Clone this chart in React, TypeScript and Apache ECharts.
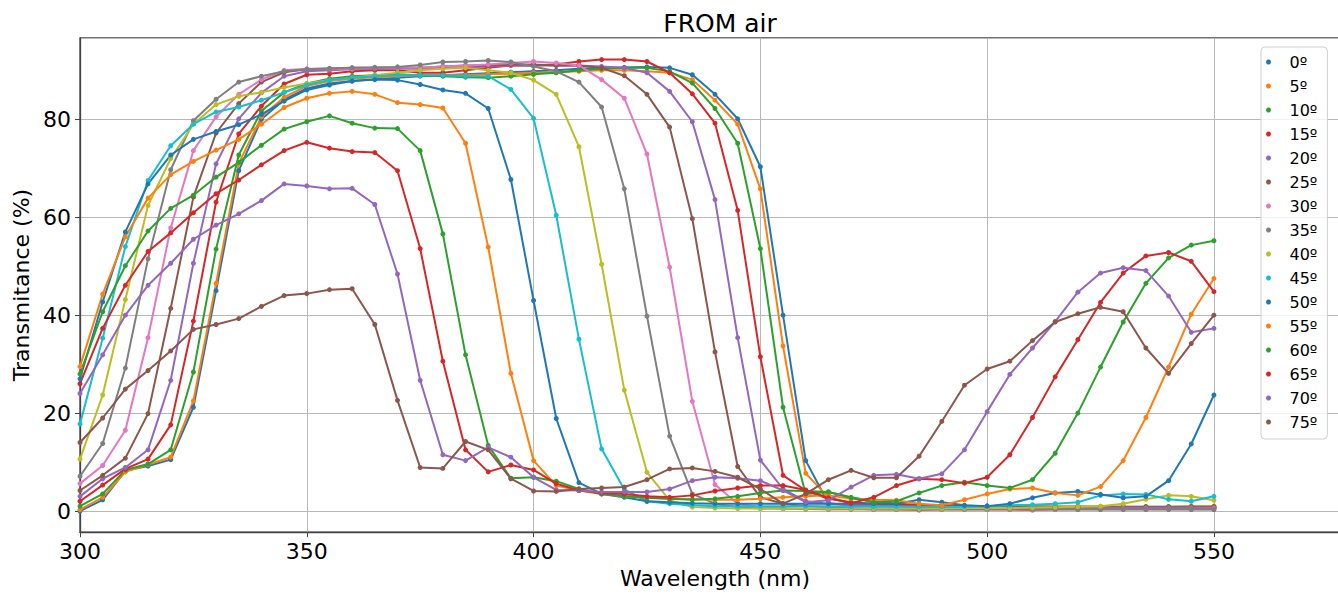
import React, { useEffect, useRef } from "react";
import * as echarts from "echarts";

const WAVELENGTHS = [300, 305, 310, 315, 320, 325, 330, 335, 340, 345, 350, 355, 360, 365, 370, 375, 380, 385, 390, 395, 400, 405, 410, 415, 420, 425, 430, 435, 440, 445, 450, 455, 460, 465, 470, 475, 480, 485, 490, 495, 500, 505, 510, 515, 520, 525, 530, 535, 540, 545, 550];

const ANGLES = ["0º", "5º", "10º", "15º", "20º", "25º", "30º", "35º", "40º", "45º", "50º", "55º", "60º", "65º", "70º", "75º"];

const T0 = [0.0, 2.3, 8.2, 9.2, 10.5, 21.2, 45.0, 69.5, 80.0, 84.0, 86.3, 87.3, 87.8, 88.2, 88.5, 88.8, 89.0, 89.2, 89.4, 89.6, 89.8, 90.0, 90.3, 90.5, 90.6, 90.7, 90.5, 89.1, 85.1, 80.1, 70.3, 40.0, 10.3, 1.6, 1.2, 1.0, 1.0, 0.9, 0.9, 0.8, 0.8, 0.8, 0.8, 0.8, 0.8, 0.7, 0.7, 0.7, 0.7, 0.7, 0.8];
const T5 = [0.3, 2.8, 8.0, 9.5, 11.0, 22.5, 46.5, 71.0, 80.5, 84.5, 86.8, 87.8, 88.3, 88.6, 88.8, 89.0, 89.0, 89.0, 89.2, 89.3, 89.5, 89.6, 89.8, 90.0, 90.0, 89.8, 89.5, 88.1, 83.9, 79.0, 65.8, 33.7, 7.7, 2.8, 1.6, 1.3, 1.2, 1.1, 1.0, 1.0, 1.0, 0.9, 0.9, 0.9, 0.9, 0.9, 0.9, 0.9, 0.9, 1.0, 1.0];
const T10 = [1.0, 3.5, 8.4, 9.6, 12.5, 28.4, 53.5, 72.7, 81.7, 85.5, 87.3, 88.3, 88.8, 89.0, 89.2, 89.0, 88.8, 88.6, 88.5, 88.8, 89.2, 89.5, 90.0, 90.3, 90.5, 90.5, 89.8, 87.4, 82.2, 75.1, 53.6, 21.2, 3.5, 3.9, 2.8, 2.0, 1.5, 1.3, 1.2, 1.1, 1.0, 1.0, 1.0, 0.9, 0.9, 0.9, 0.9, 0.9, 0.9, 0.9, 0.9];
const T15 = [2.0, 5.3, 8.6, 10.6, 17.6, 38.8, 63.1, 77.0, 82.7, 87.2, 89.1, 89.3, 89.8, 90.0, 90.0, 89.5, 89.5, 90.0, 90.5, 91.0, 91.0, 91.2, 91.8, 92.2, 92.2, 91.8, 89.5, 85.2, 79.2, 61.4, 31.5, 7.3, 4.2, 2.5, 1.8, 1.5, 1.3, 1.2, 1.1, 1.0, 1.0, 1.0, 0.9, 0.9, 0.9, 0.9, 0.8, 0.8, 0.8, 0.8, 0.8];
const T20 = [3.0, 6.6, 8.9, 12.5, 26.7, 50.6, 70.9, 80.1, 85.4, 88.8, 89.8, 90.0, 90.2, 90.3, 90.3, 90.3, 90.5, 90.6, 90.8, 91.0, 91.0, 91.0, 91.0, 90.8, 90.5, 89.5, 85.7, 79.5, 63.6, 35.4, 10.4, 4.5, 2.0, 1.5, 1.2, 1.0, 1.0, 0.9, 0.8, 0.8, 0.8, 0.7, 0.7, 0.7, 0.7, 0.7, 0.7, 0.7, 0.7, 0.7, 0.7];
const T25 = [4.2, 7.3, 10.8, 19.9, 41.4, 64.1, 77.2, 83.2, 87.6, 89.6, 90.2, 90.3, 90.5, 90.5, 90.5, 90.5, 90.8, 91.0, 91.0, 91.2, 91.2, 91.0, 91.0, 90.5, 88.9, 85.1, 78.4, 59.7, 32.5, 9.1, 2.8, 1.5, 1.0, 0.8, 0.5, 0.3, 0.3, 0.2, 0.3, 0.3, 0.3, 0.3, 0.2, 0.3, 0.3, 0.3, 0.3, 0.3, 0.3, 0.3, 0.3];
const T30 = [5.6, 9.3, 16.5, 35.4, 57.8, 73.6, 80.5, 85.1, 88.1, 90.0, 90.3, 90.3, 90.3, 90.5, 90.5, 90.5, 90.8, 91.0, 91.2, 91.5, 91.8, 91.5, 91.0, 88.1, 84.3, 72.9, 49.8, 22.4, 5.4, 1.5, 0.8, 0.5, 0.4, 0.3, 0.3, 0.3, 0.3, 0.3, 0.3, 0.3, 0.3, 0.3, 0.3, 0.3, 0.4, 0.4, 0.4, 0.4, 0.4, 0.4, 0.5];
const T35 = [7.1, 13.8, 29.2, 51.5, 69.7, 79.7, 84.1, 87.6, 88.8, 89.8, 90.2, 90.4, 90.5, 90.6, 90.7, 91.1, 91.7, 91.8, 92.0, 91.7, 90.8, 89.8, 87.6, 82.5, 65.8, 39.8, 15.3, 3.5, 1.5, 0.8, 0.5, 0.5, 0.4, 0.4, 0.4, 0.4, 0.4, 0.4, 0.4, 0.4, 0.4, 0.4, 0.4, 0.4, 0.4, 0.4, 0.4, 0.4, 0.4, 0.4, 0.4];
const T40 = [10.6, 23.7, 43.2, 62.4, 72.0, 79.0, 83.0, 84.7, 85.5, 86.5, 87.3, 88.0, 88.5, 89.0, 89.5, 90.0, 90.3, 90.5, 90.0, 89.5, 88.0, 85.1, 74.4, 50.4, 24.7, 7.9, 2.2, 0.8, 0.6, 0.5, 0.5, 0.5, 0.5, 0.5, 0.5, 0.5, 0.5, 0.5, 0.5, 0.6, 0.6, 0.6, 0.7, 0.8, 0.9, 1.0, 1.5, 2.4, 3.2, 3.0, 2.2];
const T45 = [17.8, 35.3, 54.0, 67.5, 74.6, 79.0, 81.5, 82.5, 83.9, 85.5, 87.0, 88.0, 88.5, 88.8, 89.0, 89.0, 89.0, 88.8, 88.8, 86.1, 80.2, 60.4, 35.1, 12.7, 4.4, 2.0, 1.5, 1.2, 1.0, 1.0, 1.0, 1.0, 1.0, 1.0, 0.9, 0.9, 0.9, 0.9, 0.9, 0.9, 1.0, 1.2, 1.3, 1.5, 1.8, 3.2, 3.5, 3.4, 2.4, 2.0, 3.0];
const T50 = [27.0, 42.7, 57.0, 66.8, 72.7, 75.9, 77.5, 78.9, 81.0, 83.7, 86.0, 87.0, 87.8, 88.1, 88.0, 87.1, 86.0, 85.3, 82.2, 67.7, 43.0, 18.9, 5.8, 3.5, 2.8, 2.0, 1.8, 1.6, 1.5, 1.5, 1.5, 1.5, 1.5, 1.5, 1.5, 1.5, 1.5, 2.3, 1.8, 1.2, 1.0, 1.5, 2.7, 3.7, 4.0, 3.4, 2.7, 3.0, 6.2, 13.7, 23.7];
const T55 = [29.5, 44.3, 56.0, 63.9, 68.7, 71.4, 73.7, 75.9, 79.0, 82.4, 84.3, 85.3, 85.7, 85.1, 83.4, 83.0, 82.3, 75.1, 53.9, 28.1, 10.3, 5.2, 4.2, 3.5, 3.0, 2.7, 2.5, 2.4, 2.3, 2.3, 2.5, 2.8, 3.0, 3.2, 2.5, 2.3, 2.2, 1.5, 1.2, 2.3, 3.5, 4.5, 4.7, 3.7, 3.2, 5.0, 10.3, 19.1, 29.4, 40.2, 47.5];
const T60 = [28.0, 40.7, 50.1, 57.2, 61.8, 64.5, 68.2, 71.2, 74.7, 78.0, 79.5, 80.7, 79.2, 78.2, 78.1, 73.6, 56.6, 31.9, 13.4, 6.7, 6.9, 6.1, 4.5, 3.5, 3.0, 2.7, 2.5, 2.3, 2.5, 3.0, 3.7, 4.2, 4.1, 3.9, 2.7, 1.8, 2.0, 3.7, 5.2, 5.9, 5.2, 4.7, 6.4, 11.8, 20.0, 29.4, 38.6, 46.5, 51.7, 54.3, 55.2];
const T65 = [26.0, 37.3, 46.1, 53.0, 56.8, 60.9, 64.8, 67.6, 70.7, 73.6, 75.3, 74.1, 73.4, 73.2, 69.5, 53.6, 30.6, 12.5, 8.0, 9.4, 8.4, 5.6, 4.2, 3.7, 3.5, 3.0, 2.8, 3.2, 4.1, 4.7, 5.2, 5.2, 4.3, 2.7, 1.6, 2.8, 5.2, 6.6, 6.4, 5.7, 6.9, 11.5, 19.1, 27.4, 35.0, 42.6, 48.6, 52.1, 52.8, 51.0, 44.8];
const T70 = [24.0, 31.9, 40.0, 46.1, 50.6, 55.5, 58.4, 60.7, 63.4, 66.8, 66.4, 65.8, 65.9, 62.6, 48.4, 26.7, 11.5, 10.3, 13.0, 11.0, 6.9, 4.3, 4.2, 3.9, 3.9, 3.9, 4.5, 6.2, 6.9, 6.7, 6.2, 4.2, 1.8, 2.2, 4.9, 7.3, 7.5, 6.6, 7.6, 12.5, 20.3, 27.9, 33.3, 38.7, 44.7, 48.6, 49.7, 49.1, 43.9, 36.5, 37.3];
const T75 = [14.0, 19.0, 24.9, 28.7, 32.7, 37.1, 38.1, 39.3, 41.8, 44.0, 44.4, 45.2, 45.4, 38.1, 22.6, 8.9, 8.7, 14.2, 12.5, 6.6, 4.1, 4.0, 4.5, 4.7, 4.9, 6.4, 8.6, 8.8, 8.1, 6.9, 4.5, 1.5, 3.5, 6.4, 8.3, 6.8, 6.8, 11.2, 18.3, 25.7, 29.0, 30.6, 34.8, 38.6, 40.3, 41.6, 40.7, 33.3, 28.1, 34.2, 40.0];

const SERIES_VALUES = [T0, T5, T10, T15, T20, T25, T30, T35, T40, T45, T50, T55, T60, T65, T70, T75];

const X_TICK_INTERVAL = 50;

const COLORS = ["#1f77b4", "#ff7f0e", "#2ca02c", "#d62728", "#9467bd", "#8c564b", "#e377c2", "#7f7f7f", "#bcbd22", "#17becf"];

const FONT = "DejaVu Sans";

export default function App() {
  const ref = useRef<HTMLDivElement>(null);

  useEffect(() => {
    if (!ref.current) return;
    const chart = echarts.init(ref.current, undefined, { renderer: "svg" });

    const series = ANGLES.map((name, i) => ({
      name,
      type: "line",
      data: WAVELENGTHS.map((w, j) => [w, SERIES_VALUES[i][j]]),
      symbol: "circle",
      symbolSize: 5,
      showAllSymbol: true,
      lineStyle: { width: 2, color: COLORS[i % COLORS.length] },
      itemStyle: { color: COLORS[i % COLORS.length] },
      emphasis: { disabled: true },
    }));

    chart.setOption({
      animation: false,
      backgroundColor: "#ffffff",
      textStyle: { fontFamily: FONT },
      title: {
        text: "FROM air",
        left: 715,
        textAlign: "center",
        top: 6,
        textStyle: { fontFamily: FONT, fontSize: 25, fontWeight: "normal", color: "#000" },
      },
      grid: {
        left: 80,
        top: 38,
        right: 15,
        bottom: 53,
        show: true,
        borderColor: "#444",
        borderWidth: 1.3,
        backgroundColor: "transparent",
      },
      legend: {
        orient: "vertical",
        left: 1261,
        top: 47,
        padding: [7, 10, 9, 5],
        itemGap: 8,
        itemWidth: 32,
        itemHeight: 5,
        icon: "circle",
        backgroundColor: "rgba(255,255,255,0.8)",
        borderColor: "#d0d0d0",
        borderWidth: 1,
        borderRadius: 4,
        textStyle: { fontFamily: FONT, fontSize: 16, lineHeight: 16, color: "#000", padding: [0, 0, 0, 0] },
        data: ANGLES,
      },
      xAxis: {
        type: "value",
        min: 300,
        max: 580,
        interval: X_TICK_INTERVAL,
        name: "Wavelength (nm)",
        nameLocation: "middle",
        nameGap: 29,
        nameTextStyle: { fontFamily: FONT, fontSize: 22, color: "#000" },
        axisLine: { show: true, onZero: false, lineStyle: { color: "#444", width: 1.3 } },
        axisTick: { show: true, length: 5, lineStyle: { color: "#444" } },
        axisLabel: { fontFamily: FONT, fontSize: 22, color: "#000", margin: 8, showMaxLabel: false },
        splitLine: { show: true, lineStyle: { color: "#b8b8b8", width: 1 } },
      },
      yAxis: {
        type: "value",
        min: -4.3,
        max: 96.6,
        splitNumber: 5,
        name: "Transmitance (%)",
        nameLocation: "middle",
        nameGap: 32,
        nameTextStyle: { fontFamily: FONT, fontSize: 22, color: "#000" },
        axisLine: { show: true, onZero: false, lineStyle: { color: "#444", width: 1.3 } },
        axisTick: { show: true, length: 5, lineStyle: { color: "#444" } },
        axisLabel: {
          fontFamily: FONT,
          fontSize: 22,
          color: "#000",
          margin: 9,
          showMinLabel: false,
          showMaxLabel: false,
          formatter: (v: number) => (Math.abs(v % 20) < 1e-6 ? String(v) : ""),
        },
        splitLine: { show: true, lineStyle: { color: "#b8b8b8", width: 1 } },
      },
      series,
    });

    return () => chart.dispose();
  }, []);

  return (
    <div style={{ position: "fixed", left: 0, top: 0, width: 1338, height: 594, overflow: "hidden", background: "#fff" }}>
      <div ref={ref} style={{ width: 1365, height: 594 }} />
    </div>
  );
}
